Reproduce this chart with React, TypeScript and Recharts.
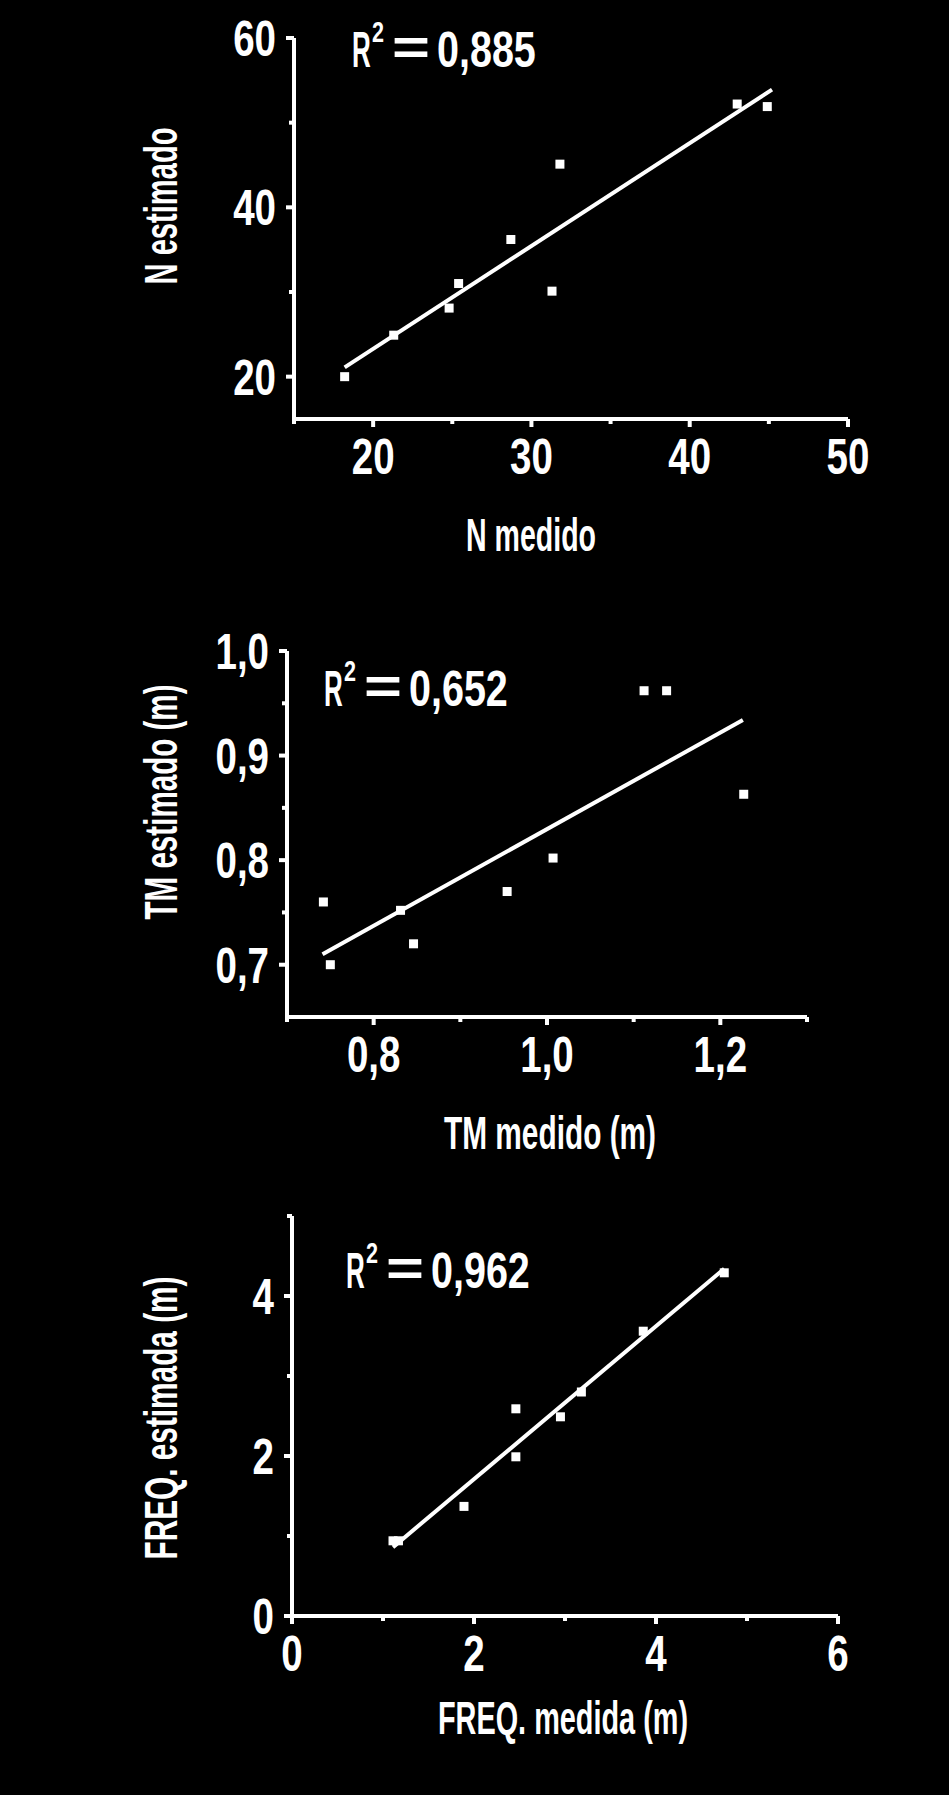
import { ScatterChart, Scatter, XAxis, YAxis } from "recharts";

// N medido vs N estimado
const nMedido = [18.2, 21.3, 24.8, 25.4, 28.7, 31.3, 31.8, 43.0, 44.9];
const nEstimado = [20, 24.9, 28.1, 31, 36.2, 30.1, 45.1, 52.2, 51.9];
const nFitX = [18.2, 45.2];
const nFitY = [21.1, 53.9];

// TM medido vs estimado (m)
const tmMedido = [0.742, 0.75, 0.831, 0.846, 0.954, 1.007, 1.112, 1.138, 1.227];
const tmEstimado = [0.76, 0.7, 0.752, 0.72, 0.77, 0.802, 0.962, 0.962, 0.863];
const tmFitX = [0.741, 1.226];
const tmFitY = [0.71, 0.934];

// FREQ. medida vs estimada (m)
const freqMedida = [1.11, 1.17, 1.89, 2.46, 2.46, 2.95, 3.18, 3.86, 4.75];
const freqEstimada = [0.94, 0.94, 1.37, 2.59, 1.99, 2.49, 2.8, 3.56, 4.29];
const freqFitX = [1.11, 4.75];
const freqFitY = [0.86, 4.34];

const nXTicks = [15, 20, 25, 30, 35, 40, 45, 50];
const nXLabels = [20, 30, 40, 50];
const nYTicks = [20, 30, 40, 50, 60];
const nYLabels = [20, 40, 60];

const tmXTicks = [0.7, 0.8, 0.9, 1.0, 1.1, 1.2, 1.3];
const tmXLabels = [0.8, 1.0, 1.2];
const tmYTicks = [0.7, 0.75, 0.8, 0.85, 0.9, 0.95, 1.0];
const tmYLabels = [0.7, 0.8, 0.9, 1.0];

const freqXTicks = [0, 1, 2, 3, 4, 5, 6];
const freqXLabels = [0, 2, 4, 6];
const freqYTicks = [0, 1, 2, 3, 4, 5];
const freqYLabels = [0, 2, 4];

const FONT = "'Liberation Sans Narrow', 'Liberation Sans', Arial, sans-serif";
const FS = 50; // tick / R² numbers
const TS = 46; // axis titles
const SX = 0.77; // horizontal squeeze for the condensed look

const zip = (xs: number[], ys: number[]) => xs.map((x, i) => ({ x, y: ys[i] }));
const isLabel = (labels: number[], v: number) => labels.some((l) => Math.abs(l - v) < 1e-9);

function makeYTick(labels: number[], fmt: (v: number) => string) {
  return (props: any) => {
    const { x, y, payload } = props;
    const major = isLabel(labels, payload.value);
    return (
      <g>
        <line x1={x - (major ? 8 : 5)} x2={x} y1={y} y2={y} stroke="#fff" strokeWidth={4} />
        {major && (
          <text
            transform={`translate(${x - 18},${y + 18}) scale(${SX},1)`}
            textAnchor="end"
            fill="#fff"
            fontFamily={FONT}
            fontWeight="bold"
            fontSize={FS}
          >
            {fmt(payload.value)}
          </text>
        )}
      </g>
    );
  };
}

function makeXTick(labels: number[], fmt: (v: number) => string) {
  return (props: any) => {
    const { x, y, payload } = props;
    const major = isLabel(labels, payload.value);
    return (
      <g>
        <line x1={x} x2={x} y1={y} y2={y + (major ? 8 : 5)} stroke="#fff" strokeWidth={4} />
        {major && (
          <text
            transform={`translate(${x},${y + 55}) scale(${SX},1)`}
            textAnchor="middle"
            fill="#fff"
            fontFamily={FONT}
            fontWeight="bold"
            fontSize={FS}
          >
            {fmt(payload.value)}
          </text>
        )}
      </g>
    );
  };
}

const intFmt = (v: number) => String(v);
const decFmt = (v: number) => v.toFixed(1).replace(".", ",");

const Square = (props: any) => (
  <rect x={props.cx - 4.5} y={props.cy - 4.5} width={9} height={9} fill="#fff" />
);
const NoDot = () => <g />;

interface PanelProps {
  top: number;
  height: number;
  margin: { top: number; right: number; bottom: number; left: number };
  xDomain: [number, number];
  yDomain: [number, number];
  xTicks: number[];
  yTicks: number[];
  xLabels: number[];
  yLabels: number[];
  fmt: (v: number) => string;
  points: { x: number; y: number }[];
  fit: { x: number; y: number }[];
}

function Panel(p: PanelProps) {
  return (
    <div style={{ position: "absolute", left: 0, top: p.top }}>
      <ScatterChart width={949} height={p.height} margin={p.margin}>
        <XAxis
          type="number"
          dataKey="x"
          domain={p.xDomain}
          ticks={p.xTicks}
          allowDataOverflow
          height={60}
          tickSize={0}
          tickMargin={0}
          tickLine={false}
          axisLine={{ stroke: "#fff", strokeWidth: 4 }}
          tick={makeXTick(p.xLabels, p.fmt)}
          interval={0}
        />
        <YAxis
          type="number"
          dataKey="y"
          domain={p.yDomain}
          ticks={p.yTicks}
          allowDataOverflow
          width={80}
          tickSize={0}
          tickMargin={0}
          tickLine={false}
          axisLine={{ stroke: "#fff", strokeWidth: 4 }}
          tick={makeYTick(p.yLabels, p.fmt)}
          interval={0}
        />
        <Scatter
          data={p.fit}
          line={{ stroke: "#fff", strokeWidth: 4 }}
          shape={NoDot}
          isAnimationActive={false}
        />
        <Scatter data={p.points} shape={Square} isAnimationActive={false} />
      </ScatterChart>
    </div>
  );
}

const textStyle = { fill: "#fff", fontFamily: FONT, fontWeight: "bold" as const };

function RSquared({ x, y, value }: { x: number; y: number; value: string }) {
  return (
    <g>
      <text transform={`translate(${x},${y}) scale(0.52,1)`} fontSize={FS} {...textStyle}>
        R
      </text>
      <text transform={`translate(${x + 20},${y - 25}) scale(0.72,1)`} fontSize={30} {...textStyle}>
        2
      </text>
      <text transform={`translate(${x + 40},${y - 2}) scale(1.3,1)`} fontSize={FS} {...textStyle}>
        =
      </text>
      <text transform={`translate(${x + 85},${y}) scale(0.79,1)`} fontSize={FS} {...textStyle}>
        {value}
      </text>
    </g>
  );
}

function YTitle({ x, y, text, length }: { x: number; y: number; text: string; length: number }) {
  return (
    <text
      transform={`translate(${x},${y}) rotate(-90)`}
      textAnchor="middle"
      fontSize={TS}
      textLength={length}
      lengthAdjust="spacingAndGlyphs"
      {...textStyle}
    >
      {text}
    </text>
  );
}

function XTitle({ x, y, text, length }: { x: number; y: number; text: string; length: number }) {
  return (
    <text
      x={x}
      y={y}
      textAnchor="middle"
      fontSize={TS}
      textLength={length}
      lengthAdjust="spacingAndGlyphs"
      {...textStyle}
    >
      {text}
    </text>
  );
}

export default function App() {
  return (
    <div
      style={{
        position: "absolute",
        left: 0,
        top: 0,
        width: 949,
        height: 1795,
        background: "#000",
        overflow: "hidden",
      }}
    >
      <Panel
        top={0}
        height={560}
        margin={{ top: 38, right: 101, bottom: 81, left: 214 }}
        xDomain={[15, 50]}
        yDomain={[15, 60]}
        xTicks={nXTicks}
        yTicks={nYTicks}
        xLabels={nXLabels}
        yLabels={nYLabels}
        fmt={intFmt}
        points={zip(nMedido, nEstimado)}
        fit={zip(nFitX, nFitY)}
      />
      <Panel
        top={600}
        height={560}
        margin={{ top: 51, right: 142, bottom: 83, left: 207 }}
        xDomain={[0.7, 1.3]}
        yDomain={[0.65, 1.0]}
        xTicks={tmXTicks}
        yTicks={tmYTicks}
        xLabels={tmXLabels}
        yLabels={tmYLabels}
        fmt={decFmt}
        points={zip(tmMedido, tmEstimado)}
        fit={zip(tmFitX, tmFitY)}
      />
      <Panel
        top={1180}
        height={600}
        margin={{ top: 36, right: 111, bottom: 104, left: 212 }}
        xDomain={[0, 6]}
        yDomain={[0, 5]}
        xTicks={freqXTicks}
        yTicks={freqYTicks}
        xLabels={freqXLabels}
        yLabels={freqYLabels}
        fmt={intFmt}
        points={zip(freqMedida, freqEstimada)}
        fit={zip(freqFitX, freqFitY)}
      />
      <svg
        width={949}
        height={1795}
        style={{ position: "absolute", left: 0, top: 0, pointerEvents: "none" }}
      >
        <RSquared x={352} y={67} value="0,885" />
        <RSquared x={324} y={706} value="0,652" />
        <RSquared x={346} y={1288} value="0,962" />
        <YTitle x={177} y={206} text="N estimado" length={157} />
        <YTitle x={177} y={802} text="TM estimado (m)" length={235} />
        <YTitle x={177} y={1418} text="FREQ. estimada (m)" length={283} />
        <XTitle x={531} y={551} text="N medido" length={130} />
        <XTitle x={550} y={1149} text="TM medido (m)" length={212} />
        <XTitle x={563} y={1734} text="FREQ. medida (m)" length={250} />
      </svg>
    </div>
  );
}
